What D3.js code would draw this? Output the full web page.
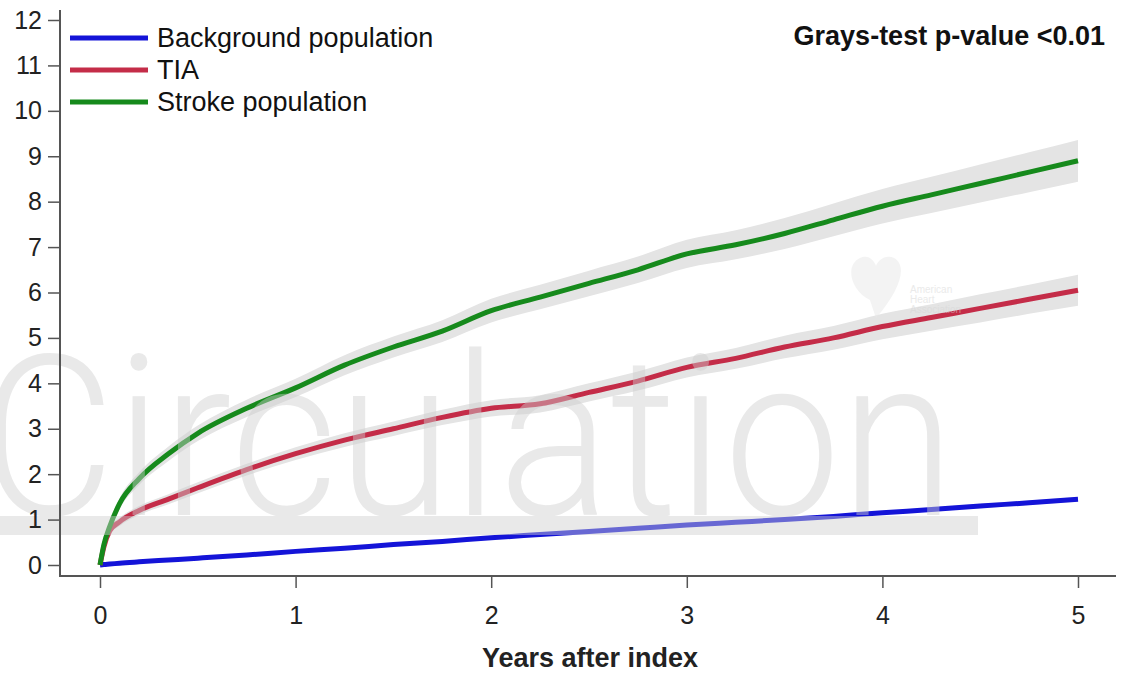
<!DOCTYPE html>
<html>
<head>
<meta charset="utf-8">
<script src="https://cdn.jsdelivr.net/npm/d3@7"></script>
<style>
  body { margin: 0; background: #fff; }
  text { font-family: "Liberation Sans", Arial, sans-serif; }
</style>
</head>
<body>
<svg id="plot" width="1122" height="675"></svg>
<script>
// years after index
var years = [0, 0.02, 0.05, 0.1, 0.2, 0.35, 0.5, 0.75, 1, 1.25, 1.5, 1.75, 2, 2.25, 2.5, 2.75, 3, 3.25, 3.5, 3.75, 4, 4.25, 4.5, 4.75, 5];

// cumulative incidence (%)
var stroke = [0, 0.45, 0.85, 1.35, 1.9, 2.45, 2.9, 3.45, 3.9, 4.4, 4.8, 5.15, 5.6, 5.9, 6.2, 6.5, 6.85, 7.05, 7.3, 7.6, 7.9, 8.15, 8.4, 8.65, 8.9];
var tia = [0, 0.4, 0.75, 0.95, 1.2, 1.45, 1.7, 2.1, 2.45, 2.75, 3.0, 3.25, 3.45, 3.55, 3.8, 4.05, 4.35, 4.55, 4.8, 5.0, 5.25, 5.45, 5.65, 5.85, 6.05];
var background = [0, 0.01, 0.02, 0.04, 0.07, 0.11, 0.15, 0.22, 0.3, 0.37, 0.45, 0.52, 0.6, 0.67, 0.74, 0.81, 0.88, 0.94, 1.0, 1.07, 1.15, 1.22, 1.3, 1.37, 1.45];

// confidence band half widths
var strokeCI = [0, 0.08, 0.1, 0.12, 0.14, 0.16, 0.17, 0.19, 0.2, 0.22, 0.23, 0.24, 0.26, 0.27, 0.28, 0.29, 0.31, 0.32, 0.34, 0.36, 0.38, 0.4, 0.42, 0.44, 0.46];
var tiaCI = [0, 0.06, 0.08, 0.09, 0.1, 0.11, 0.12, 0.13, 0.14, 0.15, 0.16, 0.17, 0.18, 0.19, 0.2, 0.21, 0.22, 0.23, 0.25, 0.26, 0.28, 0.29, 0.31, 0.32, 0.34];
var backgroundCI = [0, 0.01, 0.01, 0.01, 0.01, 0.02, 0.02, 0.02, 0.02, 0.02, 0.03, 0.03, 0.03, 0.03, 0.03, 0.03, 0.04, 0.04, 0.04, 0.04, 0.04, 0.04, 0.05, 0.05, 0.05];

var seriesNames = ["Background population", "TIA", "Stroke population"];
var seriesColors = ["#1414d8", "#c42c48", "#168a1c"];
var xTicks = [0, 1, 2, 3, 4, 5];
var yTicks = [0, 1, 2, 3, 4, 5, 6, 7, 8, 9, 10, 11, 12];

var svg = d3.select("#plot");

var xScale = d3.scaleLinear().domain([0, 5]).range([100, 1078]);
var yScale = d3.scaleLinear().domain([0, 12]).range([565, 20]);

var series = [
  {name: seriesNames[0], color: seriesColors[0], v: background, ci: backgroundCI},
  {name: seriesNames[1], color: seriesColors[1], v: tia, ci: tiaCI},
  {name: seriesNames[2], color: seriesColors[2], v: stroke, ci: strokeCI}
];

var line = d3.line()
    .x(d => xScale(d.x))
    .y(d => yScale(d.y))
    .curve(d3.curveMonotoneX);

var area = d3.area()
    .x(d => xScale(d.x))
    .y0(d => yScale(d.lo))
    .y1(d => yScale(d.hi))
    .curve(d3.curveMonotoneX);

// bands first
series.forEach(function(s){
  var pts = years.map((t, i) => ({x: t, lo: s.v[i] - s.ci[i], hi: s.v[i] + s.ci[i]}));
  svg.append("path")
    .datum(pts)
    .attr("fill", "#e4e4e4")
    .attr("d", area);
});

series.forEach(function(s){
  var pts = years.map((t, i) => ({x: t, y: s.v[i]}));
  svg.append("path")
    .datum(pts)
    .attr("fill", "none")
    .attr("stroke", s.color)
    .attr("stroke-width", 5)
    .attr("stroke-linejoin", "round")
    .attr("d", line);
});

// watermark
var wm = svg.append("g").attr("opacity", 0.45);
wm.append("text")
  .attr("x", -20)
  .attr("y", 515)
  .attr("textLength", 975)
  .attr("lengthAdjust", "spacingAndGlyphs")
  .style("font-family", "Roboto, sans-serif")
  .style("font-weight", 300)
  .style("font-size", "225px")
  .attr("fill", "#cfcfcf")
  .text("Circulation");
wm.append("rect")
  .attr("x", 0).attr("y", 516)
  .attr("width", 978).attr("height", 19)
  .attr("fill", "#cfcfcf");

// faint AHA mark
var aha = svg.append("g").attr("opacity", 0.5);
aha.append("path")
  .attr("d", "M870,300 C850,290 845,265 860,258 C868,254 874,260 876,266 C878,260 886,254 894,258 C908,266 900,290 876,318 Z")
  .attr("fill", "#e8e8e8");
["American", "Heart", "Association"].forEach(function(w, i){
  aha.append("text")
    .attr("x", 910).attr("y", 293 + i * 10)
    .style("font-size", "10px")
    .attr("fill", "#d6d6d6")
    .text(w);
});

// axes
var axisColor = "#555";
var yAxis = svg.append("g")
  .attr("transform", "translate(60,0)")
  .call(d3.axisLeft(yScale).tickValues(yTicks).tickFormat(d3.format("d"))
    .tickSize(12).tickPadding(6).tickSizeOuter(0));
yAxis.select(".domain").remove();
yAxis.selectAll(".tick line").attr("stroke", axisColor).attr("stroke-width", 1.5);
yAxis.selectAll(".tick text")
  .style("font-size", "25px").attr("fill", "#222");

var xAxis = svg.append("g")
  .attr("transform", "translate(0,576)")
  .call(d3.axisBottom(xScale).tickValues(xTicks).tickFormat(d3.format("d"))
    .tickSize(12).tickPadding(18).tickSizeOuter(0));
xAxis.select(".domain").remove();
xAxis.selectAll(".tick line").attr("stroke", axisColor).attr("stroke-width", 1.5);
xAxis.selectAll(".tick text")
  .style("font-size", "25px").attr("fill", "#222");

svg.append("line")
  .attr("x1", 60).attr("x2", 60).attr("y1", 10).attr("y2", 577)
  .attr("stroke", axisColor).attr("stroke-width", 2);
svg.append("line")
  .attr("x1", 59).attr("x2", 1116).attr("y1", 576).attr("y2", 576)
  .attr("stroke", axisColor).attr("stroke-width", 2);

svg.append("text")
  .attr("x", 590).attr("y", 667)
  .attr("text-anchor", "middle")
  .style("font-size", "27px").style("font-weight", "bold")
  .attr("fill", "#222")
  .text("Years after index");

svg.append("text")
  .attr("x", 1105).attr("y", 45)
  .attr("text-anchor", "end")
  .style("font-size", "27px").style("font-weight", "bold")
  .attr("fill", "#111")
  .text("Grays-test p-value <0.01");

// legend
var legend = svg.append("g");
series.forEach(function(s, i){
  var y = 38 + i * 32;
  legend.append("line")
    .attr("x1", 70).attr("x2", 148).attr("y1", y).attr("y2", y)
    .attr("stroke", s.color).attr("stroke-width", 5);
  legend.append("text")
    .attr("x", 157).attr("y", y + 9)
    .style("font-size", "27px")
    .attr("fill", "#111")
    .text(s.name);
});
</script>
</body>
</html>
